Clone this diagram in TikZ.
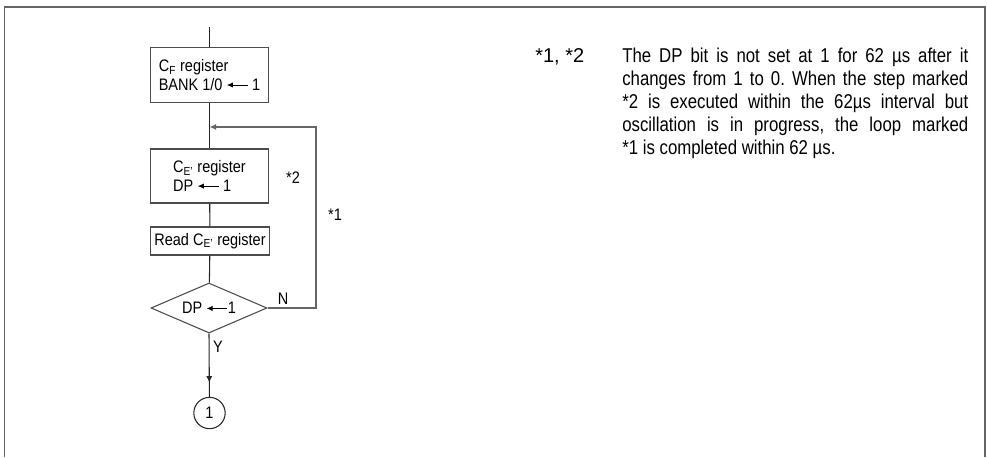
\documentclass[tikz,border=0pt]{standalone}
\usepackage{fontspec}
\setmainfont{Liberation Sans}[FakeStretch=0.87]
\newfontfamily\notefont{Liberation Sans}[FakeStretch=0.84]
\newfontfamily\plainfont{Liberation Sans}
\usetikzlibrary{arrows.meta,shapes.geometric,decorations.markings}

\newcommand{\larr}{\tikz[baseline=-0.6ex]\draw[line width=0.6pt,-{Latex[length=4.5pt,width=4pt]}] (1.25em,0) -- (0,0);}

\begin{document}
\frenchspacing
\begin{tikzpicture}[x=0.75pt, y=-0.75pt, >=Latex,
    line/.style={draw=black!85, line width=0.8pt},
    loopline/.style={draw=black!60, line width=0.8pt},
    regbox/.style={draw=black!70, line width=0.8pt, align=left, inner sep=2pt,
        minimum width=88pt, font=\fontsize{12.5}{14}\selectfont},
    decision/.style={diamond, draw=black!70, line width=0.8pt, aspect=2.3, inner sep=0pt,
        minimum width=87pt, minimum height=37.5pt, font=\fontsize{12.5}{14}\selectfont},
    connector/.style={circle, draw=black!85, line width=0.8pt, inner sep=0pt,
        minimum size=23.5pt, font=\fontsize{12.5}{14}\selectfont},
    lbl/.style={font=\fontsize{12.5}{14}\selectfont, inner sep=0pt},
    notetext/.style={font=\notefont\fontsize{15}{17.25}\selectfont, align=left, inner sep=0pt}]

    \useasboundingbox (0,0) rectangle (987,457);

    % --- frame (open at the bottom) ---
    \draw[draw=black!60, line width=1.2pt] (4.5,457) |- (985,7) -- (985,457);

    % --- flow chart ---
    \coordinate (start) at (209.5,27);
    \coordinate (join) at (209.5,127);
    \coordinate (loopNE) at (316,127);

    \node[regbox, minimum height=41.25pt] (cf) at (209.5,75)
        {C\textsubscript{F} register\\BANK 1/0 \larr\ 1};
    \node[regbox, minimum height=40.5pt] (ce) at (209.5,176)
        {C\textsubscript{E'} register\\DP \larr\ 1};
    \node[regbox, minimum width=89pt, minimum height=21pt] (rd) at (210,241)
        {Read C\textsubscript{E'} register};
    \node[decision] (dp) at (209,308) {DP \larr1};
    \node[connector] (con) at (209.5,413) {1};

    \draw[line] (start) -- (cf);
    \draw[line] (cf) -- (ce);
    \draw[line] (ce) -- (rd);
    \draw[line] (rd) -- (dp);
    \draw[line, decoration={markings, mark=at position 0.78 with {\arrow{Latex[length=5pt,width=4.5pt]}}},
        postaction={decorate}] (dp.south) -- (con);

    % loop back
    \draw[loopline, -{Latex[length=5pt,width=4.5pt]}] (dp.east) -| (loopNE) -- (join);

    \node[lbl] (n2) at (293,178) {*2};
    \node[lbl] (n1) at (335,215) {*1};
    \node[lbl] (nN) at (283,299) {N};
    \node[lbl] (nY) at (218,347) {Y};

    % --- note ---
    \node[notetext, font=\plainfont\fontsize{15}{17.25}\selectfont, anchor=base west] (mark) at (535,62.5) {*1, *2};
    \node[notetext, anchor=north west] (note) at (622,48.2) {%
        \makebox[259.5pt][s]{The DP bit is not set at 1 for 62 µs after it}\\
        \makebox[259.5pt][s]{changes from 1 to 0. When the step marked}\\
        \makebox[259.5pt][s]{*2 is executed within the 62µs interval but}\\
        \makebox[259.5pt][s]{oscillation is in progress, the loop marked}\\
        *1 is completed within 62 µs.};

\end{tikzpicture}
\end{document}
